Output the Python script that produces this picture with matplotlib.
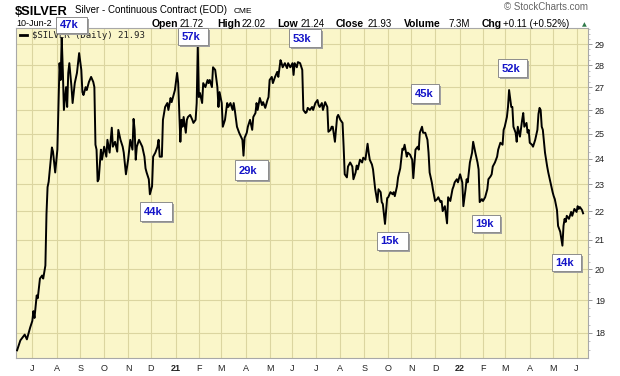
import numpy as np
import pandas as pd
import matplotlib
matplotlib.use('Agg')
import matplotlib.pyplot as plt
from matplotlib.patches import Rectangle
from matplotlib.ticker import FixedLocator, FixedFormatter, NullFormatter

plt.rcParams['font.family'] = ['Liberation Sans', 'DejaVu Sans']

# session index (trading days since 10-Jun-2020) and close
session = [1, 4, 8, 10, 13, 15, 16, 17, 19, 20,
           22, 24, 25, 27, 28, 29, 30, 33, 34, 36,
           38, 39, 40, 41, 42, 43, 44, 46, 47, 48,
           49, 51, 52, 54, 56, 58, 60, 61, 62, 64,
           65, 67, 69, 71, 72, 73, 74, 75, 76, 78,
           79, 81, 83, 84, 86, 88, 89, 91, 93, 94,
           96, 98, 99, 101, 103, 105, 107, 108, 109, 110,
           111, 113, 116, 118, 119, 120, 122, 123, 125, 126,
           128, 130, 131, 132, 134, 135, 137, 139, 140, 142,
           143, 144, 146, 148, 149, 151, 152, 153, 154, 156,
           157, 158, 160, 162, 163, 165, 166, 167, 168, 169,
           171, 172, 174, 176, 177, 178, 180, 181, 183, 185,
           186, 187, 189, 190, 192, 194, 195, 197, 199, 200,
           201, 203, 205, 208, 209, 210, 212, 213, 215, 217,
           218, 220, 221, 222, 224, 226, 227, 229, 231, 232,
           233, 235, 236, 238, 240, 241, 243, 244, 245, 247,
           249, 250, 252, 254, 255, 256, 258, 259, 261, 263,
           264, 266, 267, 268, 270, 272, 273, 275, 277, 278,
           279, 281, 282, 284, 286, 287, 289, 290, 291, 293,
           295, 296, 298, 300, 301, 302, 304, 305, 307, 309,
           310, 312, 313, 314, 316, 318, 319, 321, 323, 324,
           325, 327, 328, 330, 332, 333, 335, 336, 337, 339,
           341, 342, 344, 346, 347, 348, 350, 351, 353, 355,
           356, 357, 359, 360, 362, 364, 365, 367, 369, 370,
           371, 373, 374, 376, 378, 379, 380, 382, 383, 385,
           387, 388, 390, 391, 392, 394, 396, 397, 399, 401,
           402, 403, 405, 406, 408, 410, 411, 413, 414, 415,
           417, 419, 420, 422, 424, 425, 426, 428, 429, 431,
           433, 434, 436, 437, 438, 440, 442, 443, 445, 447,
           448, 449, 451, 452, 453, 455, 456, 457, 459, 460,
           461, 463, 465, 466, 467, 469, 470, 471, 472, 474,
           475, 477, 479, 480, 481, 482, 483, 484, 486, 488,
           489, 491, 493, 494, 495, 497, 498, 500, 502, 503,
           504, 505, 506, 508, 510, 511, 513, 515, 516, 517,
           518, 520, 521]

close = [17.49, 17.78, 17.95, 17.81, 18.16, 18.36, 18.66, 18.45, 19.15, 19.06,
         19.69, 19.79, 19.69, 20.12, 21.90, 22.90, 23.10, 24.45, 24.28, 23.46,
         24.36, 26.14, 28.10, 27.33, 29.30, 27.79, 26.01, 27.01, 26.14, 27.65,
         28.10, 27.01, 26.31, 27.19, 27.65, 28.57, 27.79, 26.79, 26.66, 27.01,
         26.88, 27.24, 27.47, 27.24, 27.01, 24.56, 24.36, 23.12, 23.20, 24.36,
         23.96, 24.48, 24.08, 24.76, 24.24, 25.26, 24.48, 24.68, 24.28, 25.17,
         24.76, 24.48, 24.24, 23.39, 23.96, 24.76, 24.36, 25.63, 25.17, 23.96,
         24.48, 24.76, 24.48, 24.08, 23.62, 23.46, 23.20, 22.63, 22.93, 24.08,
         24.24, 24.48, 24.76, 24.08, 24.08, 25.59, 26.14, 26.31, 26.01, 26.53,
         26.35, 26.53, 26.88, 27.65, 27.19, 24.68, 25.59, 25.30, 25.71, 25.05,
         25.59, 25.71, 25.80, 25.59, 25.46, 25.59, 26.31, 28.95, 26.57, 26.75,
         26.31, 27.19, 27.01, 27.33, 27.19, 27.33, 27.01, 27.91, 27.79, 27.01,
         26.14, 26.79, 26.31, 25.30, 25.59, 26.31, 26.14, 26.31, 26.01, 26.31,
         26.01, 25.30, 25.05, 24.76, 24.12, 24.84, 25.05, 25.30, 25.59, 25.17,
         25.71, 25.88, 26.31, 26.01, 26.53, 26.22, 26.35, 26.10, 26.44, 26.57,
         27.33, 27.47, 27.19, 27.47, 27.70, 27.47, 28.24, 28.10, 27.91, 28.10,
         27.87, 28.10, 27.91, 28.10, 27.56, 28.10, 27.91, 28.15, 28.10, 27.79,
         26.01, 25.88, 25.92, 26.10, 26.01, 26.14, 26.01, 26.31, 26.44, 26.22,
         26.14, 26.31, 26.01, 26.35, 26.14, 25.09, 25.17, 25.30, 25.30, 24.68,
         25.71, 25.80, 25.59, 25.46, 24.48, 23.39, 23.27, 23.69, 23.85, 23.69,
         23.20, 23.46, 23.73, 23.58, 23.96, 23.85, 24.04, 23.96, 24.60, 24.24,
         23.96, 23.77, 23.58, 22.82, 22.34, 22.82, 22.71, 22.34, 22.27, 21.55,
         22.49, 22.52, 22.71, 22.63, 22.71, 22.56, 22.93, 23.27, 23.62, 24.40,
         24.36, 24.56, 24.08, 24.24, 24.16, 23.96, 23.24, 24.36, 24.48, 24.36,
         25.05, 25.30, 25.05, 25.05, 24.76, 24.24, 23.46, 23.08, 22.82, 22.38,
         22.45, 22.52, 22.34, 22.38, 22.01, 22.19, 21.57, 22.52, 22.38, 22.82,
         22.93, 23.08, 23.20, 23.08, 23.39, 23.08, 22.19, 22.82, 23.20, 23.08,
         23.85, 24.24, 24.68, 24.24, 23.85, 23.58, 22.34, 22.45, 22.38, 22.52,
         22.82, 23.20, 23.31, 23.39, 23.69, 23.85, 24.08, 24.36, 24.64, 24.56,
         25.17, 25.30, 25.71, 26.14, 26.88, 26.14, 26.14, 25.30, 25.05, 24.68,
         25.30, 24.89, 25.59, 25.88, 25.30, 25.46, 25.05, 25.17, 24.64, 24.56,
         24.48, 24.76, 25.17, 25.84, 26.10, 26.01, 25.30, 25.17, 24.24, 23.69,
         23.46, 23.08, 22.71, 22.56, 22.45, 22.05, 21.48, 21.27, 20.79, 21.48,
         21.73, 21.62, 21.84, 21.73, 21.98, 21.84, 22.09, 21.98, 22.19, 22.09,
         22.16, 22.05, 21.93]

month_labels = ['J', 'A', 'S', 'O', 'N', 'D', '21', 'F', 'M', 'A', 'M', 'J',
                'J', 'A', 'S', 'O', 'N', 'D', '22', 'F', 'M', 'A', 'M', 'J']
price_ticks = [18, 19, 20, 21, 22, 23, 24, 25, 26, 27, 28, 29]
volume_labels = ['47k', '57k', '53k', '44k', '29k', '45k', '52k', '15k', '19k', '14k']

W, H = 620, 376


def fx(x):
    return x / W


def fy(y):
    return 1 - y / H


days = pd.bdate_range('2020-06-10', '2022-06-10')
month_starts = pd.date_range('2020-07-01', '2022-06-01', freq='MS')
month_pos = days.searchsorted(month_starts)

fig = plt.figure(figsize=(6.2, 3.76), dpi=100)
ax = fig.add_axes([fx(16), fy(358), fx(572), 330 / H])
ax.set_facecolor('#faf6c9')

ax.plot(session, close, color='black', lw=1.4, zorder=3)

ax.set_yscale('log')
ax.set_ylim(17.27, 29.78)
ax.set_xlim(0, 525.5)

ax.yaxis.tick_right()
ax.yaxis.set_major_locator(FixedLocator(price_ticks))
ax.yaxis.set_major_formatter(FixedFormatter([str(v) for v in price_ticks]))
ax.yaxis.set_minor_locator(FixedLocator(np.arange(17.25, 29.8, 0.25)))
ax.yaxis.set_minor_formatter(NullFormatter())
ax.tick_params(axis='y', which='major', length=3, width=0.6, pad=2,
               labelsize=6.5, color='#888888', labelcolor='#222222')
ax.tick_params(axis='y', which='minor', length=1.5, width=0.5, color='#aaaaaa')

ax.set_xticks(month_pos)
ax.set_xticklabels(month_labels)
ax.tick_params(axis='x', length=0, pad=4, labelsize=6.5, labelcolor='#222222')
for lab in ax.get_xticklabels():
    if lab.get_text() in ('21', '22'):
        lab.set_fontweight('bold')

ax.grid(True, which='major', color='#dbd5a0', lw=0.8, zorder=0)
ax.set_axisbelow(True)
for sp in ax.spines.values():
    sp.set_color('#a8a8a8')
    sp.set_linewidth(0.8)

# header
fig.text(fx(15), fy(15), '$SILVER', fontsize=9.3, fontweight='bold', va='baseline')
fig.text(fx(75), fy(13), 'Silver - Continuous Contract (EOD)', fontsize=7, va='baseline')
fig.text(fx(234), fy(13), 'CME', fontsize=6, va='baseline')
fig.text(fx(16), fy(26), '10-Jun-2', fontsize=6.5, va='baseline')
fig.text(fx(588), fy(10), '\u00a9 StockCharts.com', fontsize=7, color='#666666',
         ha='right', va='baseline')

quote = [('Open', True, 152), ('21.72', False, 180), ('High', True, 217),
         ('22.02', False, 242), ('Low', True, 277), ('21.24', False, 301),
         ('Close', True, 336), ('21.93', False, 368), ('Volume', True, 404),
         ('7.3M', False, 448), ('Chg', True, 482), ('+0.11 (+0.52%)', False, 503)]
for txt, bold, x in quote:
    fig.text(fx(x), fy(27), txt, fontsize=7.5 if bold else 7,
             fontweight='bold' if bold else 'normal', va='baseline')
fig.text(fx(584.5), fy(26), '\u25b2', fontsize=4.5, color='#2f7a4a',
         ha='center', va='baseline', family='DejaVu Sans')

# legend
ax.plot([0.007, 0.019], [0.978, 0.978], transform=ax.transAxes, color='black', lw=2, zorder=4)
ax.text(0.028, 0.978, '$SILVER (Daily) 21.93', transform=ax.transAxes,
        family='DejaVu Sans Mono', fontsize=6.5, va='center', color='#222222', zorder=4)

# volume callouts (box pixel extents: left, top, right, bottom)
boxes = [(56, 17, 87, 33), (178, 28, 208, 45), (289, 29, 321, 47),
         (140, 202, 172, 221), (235, 160, 268, 180), (411, 84, 439, 103),
         (498, 59, 527, 77), (377, 232, 408, 250), (472, 215, 500, 232),
         (552, 254, 581, 271)]
for label, (l, t, r, b) in zip(volume_labels, boxes):
    fig.add_artist(Rectangle((fx(l + 2), fy(b + 2)), fx(r - l), (b - t) / H,
                             transform=fig.transFigure, facecolor='#a0a0a0',
                             edgecolor='none', zorder=9))
    fig.add_artist(Rectangle((fx(l), fy(b)), fx(r - l), (b - t) / H,
                             transform=fig.transFigure, facecolor='white',
                             edgecolor='#8c8c8c', lw=0.7, zorder=10))
    fig.text(fx(l + 3.5), fy((t + b) / 2 + 0.5), label, fontsize=8, fontweight='bold',
             color='#1414c8', ha='left', va='center', zorder=11)

fig.savefig('out.png', dpi=100)
